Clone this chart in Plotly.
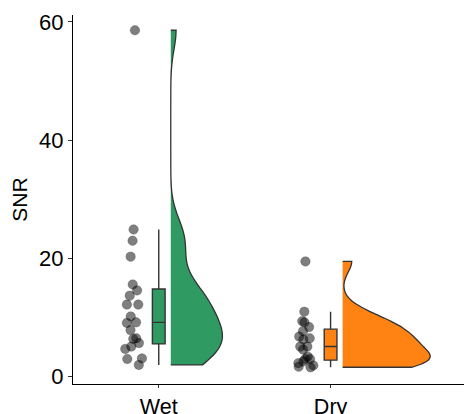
import numpy as np
import plotly.graph_objects as go

categories = ["Wet", "Dry"]
cat_pos = [1, 2]
wet_snr = [58.6, 24.9, 23.0, 20.3, 15.6, 14.6, 13.7, 12.2, 12.2, 10.2, 9.2,
           9.1, 7.9, 6.5, 6.4, 5.7, 5.1, 4.7, 3.1, 3.0, 2.0]
dry_snr = [19.5, 11.0, 9.4, 9.2, 8.4, 7.7, 6.8, 6.5, 6.3, 5.1, 5.1, 4.6,
           3.4, 3.0, 3.0, 2.6, 2.3, 1.9, 1.7, 1.6]
fill_colors = ["#2F9A62", "#FF8312"]
y_ticks = [0, 20, 40, 60]

series = [wet_snr, dry_snr]
viol_width = [0.60, 1.02]

def bw_nrd0(v):
    v = np.asarray(v, float)
    sd = v.std(ddof=1)
    iqr = np.subtract(*np.percentile(v, [75, 25]))
    lo = min(sd, iqr / 1.34)
    return 0.9 * lo * len(v) ** (-0.2)

FONT = "Liberation Sans, Arial, sans-serif"
LINE = "#333333"
fig = go.Figure()
for i, (vals, pos) in enumerate(zip(series, cat_pos)):
    n = len(vals)
    # half violin
    fig.add_trace(go.Violin(
        x=[pos + 0.07] * n, y=vals, side="positive", width=viol_width[i],
        spanmode="hard", bandwidth=bw_nrd0(vals), points=False,
        fillcolor=fill_colors[i], opacity=1,
        line=dict(color=LINE, width=1.3), hoverinfo="skip",
        box_visible=False, meanline_visible=False, showlegend=False))
    # box
    fig.add_trace(go.Box(
        x=[pos] * n, y=vals, width=0.074, quartilemethod="linear",
        boxpoints="outliers", whiskerwidth=0,
        marker=dict(size=0.1, opacity=0),
        fillcolor=fill_colors[i], line=dict(color=LINE, width=1.4),
        hoverinfo="skip", showlegend=False))
    # jittered points
    fig.add_trace(go.Box(
        x=[pos] * n, y=vals, width=0.146, boxpoints="all", jitter=0.85,
        pointpos=-2, fillcolor="rgba(0,0,0,0)",
        line=dict(width=0, color="rgba(0,0,0,0)"),
        marker=dict(size=9.5, color="rgba(0,0,0,0.5)",
                    line=dict(width=0.6, color="rgba(0,0,0,0.35)")),
        hoverinfo="skip", showlegend=False))

# the page body adds an 8px offset; size the figure to the remaining area
fig.update_layout(
    width=464, height=406,
    margin=dict(l=65, r=0, t=7, b=30),
    paper_bgcolor="white", plot_bgcolor="white",
    font=dict(family=FONT, size=21, color="black"),
    boxmode="overlay", violinmode="overlay",
)
fig.update_xaxes(
    range=[0.501, 2.823], tickvals=cat_pos, ticktext=categories,
    showgrid=False, zeroline=False, showline=True, linecolor="black",
    linewidth=1.1, ticks="outside", ticklen=3, tickcolor="#333",
    ticklabelstandoff=0, automargin=False,
    tickfont=dict(size=21.5, color="black"))
fig.update_yaxes(
    range=[-1.23, 61.18], tickvals=y_ticks,
    title=dict(text="SNR", standoff=5, font=dict(size=21)),
    showgrid=False, zeroline=False, showline=True, linecolor="black",
    linewidth=1.1, ticks="outside", ticklen=4, tickcolor="#333",
    automargin=False, tickfont=dict(size=22, color="black"))

fig.write_html("out.html")
